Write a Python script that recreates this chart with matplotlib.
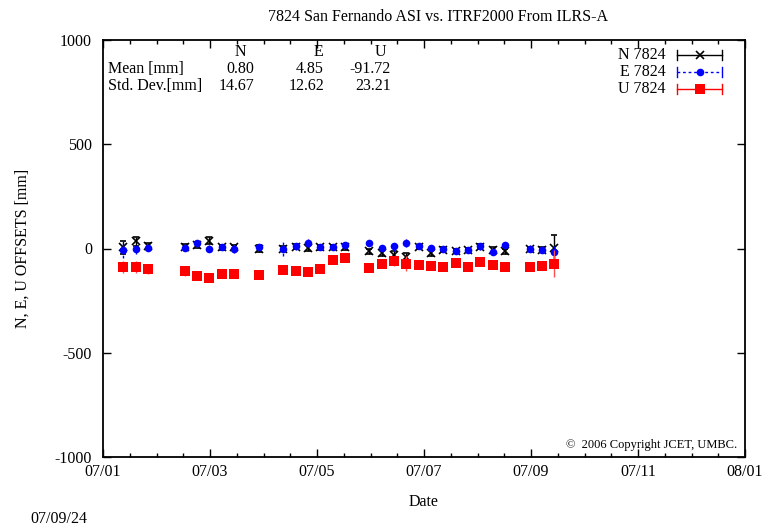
import matplotlib
matplotlib.use("Agg")
import matplotlib.pyplot as plt
import matplotlib.dates as mdates
from matplotlib.ticker import FixedLocator, AutoMinorLocator
import numpy as np

plt.rcParams['font.family'] = ['Liberation Serif', 'DejaVu Serif']
plt.rcParams['axes.unicode_minus'] = False

dates = ["2007-01-12 12:00", "2007-01-19 12:00", "2007-01-26 12:00", "2007-02-16 12:00",
         "2007-02-23 12:00", "2007-03-02 12:00", "2007-03-09 12:00", "2007-03-16 12:00",
         "2007-03-30 12:00", "2007-04-13 12:00", "2007-04-20 12:00", "2007-04-27 12:00",
         "2007-05-04 12:00", "2007-05-11 12:00", "2007-05-18 12:00", "2007-06-01 12:00",
         "2007-06-08 12:00", "2007-06-15 12:00", "2007-06-22 12:00", "2007-06-29 12:00",
         "2007-07-06 12:00", "2007-07-13 12:00", "2007-07-20 12:00", "2007-07-27 12:00",
         "2007-08-03 12:00", "2007-08-10 12:00", "2007-08-17 12:00", "2007-08-31 12:00",
         "2007-09-07 12:00", "2007-09-14 12:00"]

n_vals = [5, 35, 12, 8, 18, 38, 5, 5, 0, 0, 8, 3, 6, 6, 5,
          -13, -21, -29, -40, 8, -21, -5, -13, -5, 8, -5, -13, -3, -5, 3]
n_err = [30, 22, 14, 12, 15, 18, 12, 14, 16, 12, 12, 14, 12, 10, 12,
         12, 14, 18, 20, 10, 14, 10, 10, 8, 12, 12, 12, 10, 10, 64]

e_vals = [-5, 0, 3, 3, 24, 0, 6, 0, 6, 0, 10, 27, 6, 6, 16,
          28, 3, 11, 27, 11, 3, -2, -10, -5, 10, -18, 16, 0, -5, -18]
e_err = [40, 25, 15, 15, 20, 15, 12, 20, 15, 35, 15, 20, 15, 12, 15,
         15, 12, 22, 20, 12, 14, 12, 12, 10, 15, 14, 12, 15, 12, 30]

u_vals = [-88, -88, -100, -109, -133, -141, -121, -121, -125, -104, -109, -112, -100, -53, -45,
          -93, -72, -61, -72, -78, -85, -88, -70, -88, -67, -80, -88, -88, -83, -72]
u_err = [28, 30, 20, 22, 15, 12, 14, 18, 15, 16, 15, 14, 15, 20, 18,
         12, 10, 25, 36, 10, 10, 12, 10, 10, 12, 12, 10, 14, 10, 66]

xtick_labels = ['07/01', '07/03', '07/05', '07/07', '07/09', '07/11', '08/01']
x_start, x_end = "2007-01-01", "2008-01-01"

stat_cols = ['N', 'E', 'U']
stat_mean = ['0.80', '4.85', '-91.72']
stat_std = ['14.67', '12.62', '23.21']

fig = plt.figure(figsize=(7.72, 5.32), dpi=100)
ax = fig.add_axes([103/772, 1-457/532, 642/772, 417/532])

x = mdates.datestr2num(dates)
x0, x1 = mdates.datestr2num(x_start), mdates.datestr2num(x_end)

fs = 11.5
# N series
ax.errorbar(x, n_vals, yerr=n_err, fmt='x', color='black', ms=5.5, mew=1.2,
            elinewidth=1.0, capsize=2.5, capthick=1.0, zorder=3)
# E series
eb = ax.errorbar(x, e_vals, yerr=e_err, fmt='o', color='#0000ff', ms=5.5, mew=0,
                 elinewidth=1.0, capsize=2.5, capthick=1.0, zorder=4)
for lc in eb[2]:
    lc.set_linestyle((0, (2, 2)))
# U series
ax.errorbar(x, u_vals, yerr=u_err, fmt='s', color='#ff0000', ms=6.5, mew=0,
            elinewidth=1.0, ecolor='#ff5050', capsize=2.5, capthick=1.0, zorder=5)

ax.set_xlim(x0, x1)
ax.set_ylim(-1000, 1000)
ax.xaxis.set_major_locator(FixedLocator(np.linspace(x0, x1, len(xtick_labels))))
ax.set_xticklabels(xtick_labels)
ax.xaxis.set_minor_locator(AutoMinorLocator(4))
ax.set_yticks([-1000, -500, 0, 500, 1000])
ax.tick_params(which='both', direction='in', top=True, right=True, labelsize=fs, colors='black')
ax.tick_params(which='major', length=6, width=1.0)
ax.tick_params(which='minor', length=3, width=1.0)
ax.tick_params(axis='x', pad=5)
ax.tick_params(axis='y', pad=8)
for s in ax.spines.values():
    s.set_linewidth(1.3)

ax.set_xlabel('Date', fontsize=fs, labelpad=10)
ax.set_ylabel('N, E, U OFFSETS [mm]', fontsize=fs, labelpad=17)
ax.set_title('7824 San Fernando ASI vs. ITRF2000 From ILRS-A', fontsize=fs, pad=14,
             x=(438 - 103) / 642)

# statistics table
def fx(px):
    return (px - 103) / 642
def fy(py):
    return (457 - py) / 417

ax.text(fx(108), fy(69), 'Mean [mm]', transform=ax.transAxes, fontsize=fs, va='center', ha='left')
ax.text(fx(108), fy(86), 'Std. Dev.[mm]', transform=ax.transAxes, fontsize=fs, va='center', ha='left')
col_right = [254, 324, 391]
col_head = [240, 318, 380]
for i in range(3):
    ax.text(fx(col_head[i]), fy(52), stat_cols[i], transform=ax.transAxes, fontsize=fs, va='center', ha='center')
    ax.text(fx(col_right[i]), fy(69), stat_mean[i], transform=ax.transAxes, fontsize=fs, va='center', ha='right')
    ax.text(fx(col_right[i]), fy(86), stat_std[i], transform=ax.transAxes, fontsize=fs, va='center', ha='right')

# legend (gnuplot style)
leg = [('N 7824', 'black', 'x', '-', 5.5), ('E 7824', '#0000ff', 'o', (0, (2, 2)), 5.5),
       ('U 7824', '#ff0000', 's', '-', 6.5)]
for i, (lab, c, m, ls, ms) in enumerate(leg):
    yy = fy(55 + 17 * i)
    ax.text(fx(666), yy, lab, transform=ax.transAxes, fontsize=fs, va='center', ha='right')
    ax.plot([fx(677), fx(722)], [yy, yy], transform=ax.transAxes, color=c, lw=1.0, ls=ls, clip_on=False)
    for xe in (fx(677), fx(722)):
        ax.plot([xe, xe], [yy - 0.013, yy + 0.013], transform=ax.transAxes, color=c, lw=1.0, clip_on=False)
    ax.plot([fx(699.5)], [yy], transform=ax.transAxes, color=c, marker=m, ms=ms,
            mew=1.2 if m == 'x' else 0, clip_on=False)

ax.text(fx(737), fy(445), '\u00a9  2006 Copyright JCET, UMBC.', transform=ax.transAxes,
        fontsize=9, va='center', ha='right')

fig.text(30/772, 1-519/532, '07/09/24', fontsize=fs, va='center', ha='left')

fig.savefig('out.png', dpi=100)
